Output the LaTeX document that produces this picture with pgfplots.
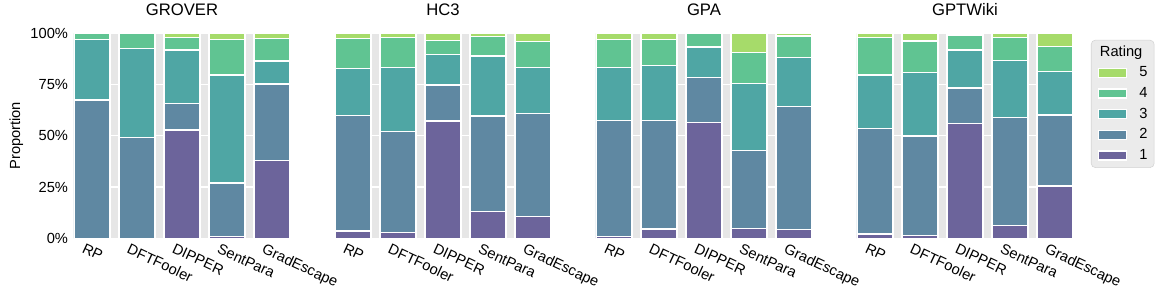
\documentclass[border=0pt]{standalone}
\usepackage{fontspec}
\setmainfont{Liberation Sans}
\usepackage{pgfplots}
\pgfplotsset{compat=1.18}
\usepgfplotslibrary{groupplots}
\usepackage{pgfplotstable}

\definecolor{c1}{RGB}{108,100,155}
\definecolor{c2}{RGB}{95,136,162}
\definecolor{c3}{RGB}{79,166,164}
\definecolor{c4}{RGB}{96,196,146}
\definecolor{c5}{RGB}{166,219,106}
\definecolor{bggray}{RGB}{230,230,230}
\definecolor{lgfill}{RGB}{235,235,235}
\definecolor{lgborder}{RGB}{210,210,210}

\pgfplotstableread{
x r1 r2 r3 r4 r5
0 0 67.5 29.5 3.0 0
1 0 49.0 43.7 7.3 0
2 52.8 13.1 26.0 6.0 2.1
3 1.0 26.0 52.7 17.3 3.0
4 37.9 37.4 11.2 10.9 2.6
}\grover

\pgfplotstableread{
x r1 r2 r3 r4 r5
0 3.6 56.4 22.9 14.7 2.4
1 2.8 49.2 31.4 14.5 2.1
2 57.2 17.6 15.0 6.6 3.6
3 13.2 46.5 29.2 9.6 1.5
4 10.6 50.1 22.6 12.8 3.9
}\hcthree

\pgfplotstableread{
x r1 r2 r3 r4 r5
0 1.0 56.4 25.9 13.8 2.9
1 4.6 52.8 26.8 12.9 2.9
2 56.4 22.0 14.9 6.7 0
3 4.9 37.9 32.8 15.1 9.3
4 4.4 59.8 23.9 10.6 1.3
}\gpa

\pgfplotstableread{
x r1 r2 r3 r4 r5
0 2.1 51.4 26.2 18.2 2.1
1 1.3 48.6 30.9 15.5 3.7
2 56.1 17.2 18.6 7.3 0.8
3 6.3 52.7 27.7 11.2 2.1
4 25.5 34.7 21.1 12.2 6.5
}\gptwiki

\pgfplotsset{panel/.style={
  ybar stacked, bar width=0.8,
  width=162pt, height=153.75pt, scale only axis,
  xmin=-0.4, xmax=4.4, ymin=0, ymax=100,
  xtick={0,1,2,3,4},
  xticklabels={RP,DFTFooler,DIPPER,SentPara,GradEscape},
  ytick={0,25,50,75,100},
  axis line style={draw=none},
  major tick length=0pt, tick style={draw=none},
  ymajorgrids, grid style={white, line width=1pt},
  axis background/.style={fill=bggray},
  tick label style={font=\fontsize{11}{13}\selectfont},
  xticklabel style={xshift=-4.9pt, yshift=-3.5pt, rotate=-25, anchor=north west, inner sep=0pt},
  yticklabel style={xshift=-1pt},
  title style={font=\fontsize{12.5}{15}\selectfont, at={(0.5,1)}, anchor=base, yshift=7.5pt},
  label style={font=\fontsize{11}{13}\selectfont},
  every axis plot/.append style={draw=white, line width=1pt},
  legend image code/.code={\draw[##1, draw=white, line width=1pt, sharp corners] (0pt,-3.4pt) rectangle (21pt,3.4pt);},
}}

\begin{document}
\begin{tikzpicture}
\begin{groupplot}[group style={group size=4 by 1, horizontal sep=33.75pt}, panel]
\nextgroupplot[title={GROVER}, ylabel={Proportion},
  ylabel style={at={(axis description cs:-0.213,0.5)}, anchor=south},
  yticklabels={0\%,25\%,50\%,75\%,100\%}]
\coordinate (O) at (rel axis cs:0,0);
\addplot[fill=c1] table[x=x,y=r1]{\grover};
\addplot[fill=c2] table[x=x,y=r2]{\grover};
\addplot[fill=c3] table[x=x,y=r3]{\grover};
\addplot[fill=c4] table[x=x,y=r4]{\grover};
\addplot[fill=c5] table[x=x,y=r5]{\grover};

\nextgroupplot[title={HC3}, yticklabels={}]
\addplot[fill=c1] table[x=x,y=r1]{\hcthree};
\addplot[fill=c2] table[x=x,y=r2]{\hcthree};
\addplot[fill=c3] table[x=x,y=r3]{\hcthree};
\addplot[fill=c4] table[x=x,y=r4]{\hcthree};
\addplot[fill=c5] table[x=x,y=r5]{\hcthree};

\nextgroupplot[title={GPA}, yticklabels={}]
\addplot[fill=c1] table[x=x,y=r1]{\gpa};
\addplot[fill=c2] table[x=x,y=r2]{\gpa};
\addplot[fill=c3] table[x=x,y=r3]{\gpa};
\addplot[fill=c4] table[x=x,y=r4]{\gpa};
\addplot[fill=c5] table[x=x,y=r5]{\gpa};

\nextgroupplot[title={GPTWiki}, yticklabels={}, reverse legend,
  legend style={at={(1,1)}, anchor=north west, xshift=13.5pt, yshift=-5pt,
    fill=lgfill, draw=lgborder, rounded corners=3pt,
    inner xsep=5pt, inner ysep=4pt, row sep=5.5pt, column sep=9pt,
    font=\fontsize{11}{13}\selectfont,
    nodes={inner sep=0pt, text height=8pt, text depth=2pt},
    cells={anchor=west}}]
\addplot[fill=c1] table[x=x,y=r1]{\gptwiki}; \addlegendentry{1}
\addplot[fill=c2] table[x=x,y=r2]{\gptwiki}; \addlegendentry{2}
\addplot[fill=c3] table[x=x,y=r3]{\gptwiki}; \addlegendentry{3}
\addplot[fill=c4] table[x=x,y=r4]{\gptwiki}; \addlegendentry{4}
\addplot[fill=c5] table[x=x,y=r5]{\gptwiki}; \addlegendentry{5}
\addlegendimage{empty legend}
\addlegendentry{\makebox[0pt][l]{\hspace*{-30pt}Rating}}
\end{groupplot}
\pgfresetboundingbox
\path (O) ++(-55.5pt,-46.3pt) rectangle ++(872.25pt,225pt);
\end{tikzpicture}
\end{document}
